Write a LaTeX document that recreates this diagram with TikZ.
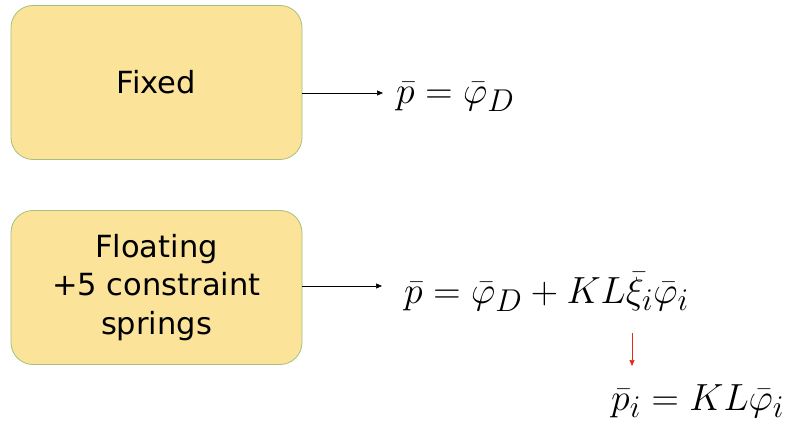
\documentclass[tikz,border=0pt]{standalone}
\usepackage{fontspec}
\setsansfont{DejaVu Sans}
\usetikzlibrary{arrows.meta}
\definecolor{boxfill}{HTML}{FBE39A}
\definecolor{boxline}{HTML}{A8C07A}
\definecolor{arrred}{HTML}{E8281E}
\newcommand{\bigeq}[1]{\scalebox{1.52}{$#1$}}
\begin{document}
\begin{tikzpicture}[x=1pt,y=-1pt,
  boxstyle/.style={draw=boxline, fill=boxfill, line width=0.8pt, rounded corners=22pt,
    minimum width=291pt, minimum height=154pt, align=center, inner sep=0pt,
    font=\sffamily\fontsize{30.5}{38.5}\selectfont},
  eqstyle/.style={inner sep=0pt, font=\fontsize{24.88}{30}\selectfont},
  conn/.style={-{Triangle[length=6pt,width=5pt]}, line width=0.6pt, black}]
\useasboundingbox[fill=white] (0,0) rectangle (787,425);
\node[boxstyle] (fixed) at (156.5,82.5) {Fixed};
\node[boxstyle] (float) at (156.5,287.5) {Floating\\+5 constraint\\springs};
\node[eqstyle, anchor=west] (eq1) at (396,97) {\bigeq{\bar p = \bar\varphi_D}};
\node[eqstyle, anchor=west] (eq2) at (404,292) {\bigeq{\bar p = \bar\varphi_D + KL\bar\xi_i\bar\varphi_i}};
\node[eqstyle, anchor=west] (eq3) at (611,401) {\bigeq{\bar p_i = KL\bar\varphi_i}};
\coordinate (a1) at (383,93);
\coordinate (a2) at (382,286);
\coordinate (r1) at (632,333);
\coordinate (r2) at (632,366);
\draw[conn] (fixed.east |- a1) -- (a1);
\draw[conn] (float.east |- a2) -- (a2);
\draw[conn, arrred] (r1) -- (r2);
\end{tikzpicture}
\end{document}
